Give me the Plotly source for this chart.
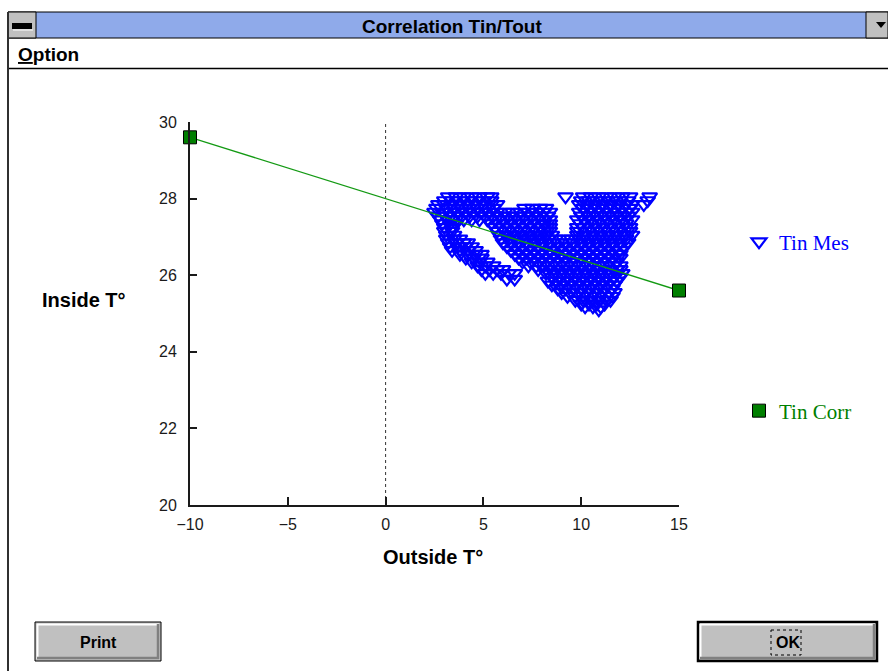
import plotly.graph_objects as go

W, H = 888, 671

# ---------------- data ----------------
# Tin Mes (measured): rows of points, one Tin level per list of Tout values
tin_levels = [28.05, 27.95, 27.85, 27.75, 27.65, 27.55, 27.45, 27.35, 27.25, 27.15,
              27.05, 26.95, 26.85, 26.75, 26.65, 26.55, 26.45, 26.35, 26.25, 26.15,
              26.05, 25.95, 25.9, 25.85, 25.75, 25.65, 25.55, 25.45, 25.35, 25.25,
              25.18, 25.1]
tout_2805 = [3.2, 3.6, 4.0, 4.4, 4.8, 5.2, 5.4, 9.2, 10.1, 10.5, 10.9, 11.3, 11.7, 12.1, 12.5, 13.5]
tout_2795 = [3.0, 3.4, 3.8, 4.2, 4.6, 5.0, 5.4, 10.0, 10.4, 10.8, 11.2, 11.6, 12.0, 12.4, 13.4]
tout_2785 = [2.7, 3.0, 3.4, 3.8, 4.2, 4.6, 5.0, 5.4, 5.7, 9.9, 10.3, 10.7, 11.1, 11.5, 11.9, 12.3, 12.6, 13.2]
tout_2775 = [2.6, 3.1, 3.5, 3.9, 4.3, 4.7, 5.1, 5.5, 7.1, 7.5, 7.9, 8.2,
             10.1, 10.5, 10.9, 11.3, 11.7, 12.1, 12.5]
tout_2765 = [2.5, 2.9, 3.3, 3.7, 4.1, 4.5, 4.9, 5.3, 5.7, 6.1, 6.5, 6.9, 7.3, 7.7, 8.1, 8.4,
             9.9, 10.3, 10.7, 11.1, 11.5, 11.9, 12.3, 12.6]
tout_2755 = [2.7, 3.1, 3.5, 3.9, 4.3, 4.7, 5.1, 5.5, 5.9, 6.3, 6.7, 7.1, 7.5, 7.9, 8.3,
             10.0, 10.4, 10.8, 11.2, 11.6, 12.0, 12.4]
tout_2745 = [2.8, 3.2, 3.6, 4.0, 4.4, 4.8, 5.2, 5.6, 6.0, 6.4, 6.8, 7.2, 7.6, 8.0, 8.4,
             9.8, 10.2, 10.6, 11.0, 11.4, 11.8, 12.2, 12.6]
tout_2735 = [2.9, 3.3, 3.6, 5.4, 5.8, 6.2, 6.6, 7.0, 7.4, 7.8, 8.1, 8.4,
             9.95, 10.3, 10.7, 11.1, 11.5, 11.9, 12.3]
tout_2725 = [3.0, 3.4, 5.6, 6.0, 6.4, 6.8, 7.2, 7.6, 8.0, 8.4,
             9.8, 10.1, 10.5, 10.9, 11.3, 11.7, 12.1, 12.5]
tout_2715 = [3.0, 3.4, 5.7, 6.1, 6.5, 6.9, 7.3, 7.7, 8.1, 8.4,
             9.8, 10.2, 10.6, 11.0, 11.4, 11.8, 12.2, 12.5]
tout_2705 = [3.1, 3.5, 5.8, 6.2, 6.6, 7.0, 7.4, 7.8, 8.2, 8.5, 9.8,
             10.2, 10.6, 11.0, 11.4, 11.8, 12.2, 12.6]
tout_2695 = [3.1, 3.5, 3.8, 5.9, 6.3, 6.7, 7.1, 7.5, 7.9, 8.3, 8.7, 9.1, 9.5, 9.9,
             10.3, 10.7, 11.1, 11.5, 11.9, 12.3]
tout_2685 = [3.2, 3.6, 4.0, 4.2, 6.0, 6.4, 6.8, 7.2, 7.6, 8.0, 8.4, 8.8, 9.2, 9.6,
             10.0, 10.4, 10.8, 11.2, 11.6, 12.0, 12.4]
tout_2675 = [3.3, 3.7, 4.1, 4.4, 6.2, 6.6, 7.0, 7.4, 7.8, 8.2, 8.6, 9.0, 9.4, 9.8,
             10.2, 10.6, 11.0, 11.4, 11.8, 12.2]
tout_2665 = [3.4, 3.8, 4.2, 4.6, 6.4, 6.8, 7.2, 7.6, 8.0, 8.4, 8.8, 9.2, 9.6,
             10.0, 10.4, 10.8, 11.2, 11.6, 12.0]
tout_2655 = [3.8, 4.2, 4.6, 4.9, 6.6, 7.0, 7.4, 7.8, 8.2, 8.6, 9.0, 9.4, 9.8,
             10.2, 10.6, 11.0, 11.4, 11.8, 12.0]
tout_2645 = [4.1, 4.5, 4.9, 6.8, 7.2, 7.6, 8.0, 8.4, 8.8, 9.2, 9.6,
             10.0, 10.4, 10.8, 11.2, 11.6, 12.0]
tout_2635 = [4.4, 4.8, 5.2, 7.0, 7.4, 7.8, 8.2, 8.6, 9.0, 9.4, 9.8,
             10.2, 10.6, 11.0, 11.4, 11.8]
tout_2625 = [4.7, 5.1, 5.5, 7.3, 7.7, 8.1, 8.5, 8.9, 9.3, 9.7,
             10.1, 10.5, 10.9, 11.3, 11.7, 12.0]
tout_2615 = [4.9, 5.3, 5.7, 6.0, 7.8, 8.2, 8.6, 9.0, 9.4, 9.8,
             10.2, 10.6, 11.0, 11.4, 11.8, 12.0]
tout_2605 = [5.1, 5.5, 5.9, 6.3, 6.6, 8.2, 8.6, 9.0, 9.4, 9.8, 10.2, 10.6, 11.0, 11.4, 11.8, 12.1]
tout_2595 = [8.5, 8.9, 9.3, 9.7, 10.1, 10.5, 10.9, 11.3, 11.7, 12.0]
tout_2590 = [6.2, 6.6]
tout_2585 = [8.3, 8.7, 9.1, 9.5, 9.9, 10.3, 10.7, 11.1, 11.5, 11.8]
tout_2575 = [8.5, 8.9, 9.3, 9.7, 10.1, 10.5, 10.9, 11.3, 11.7]
tout_2565 = [8.8, 9.2, 9.6, 10.0, 10.4, 10.8, 11.2, 11.6]
tout_2555 = [9.0, 9.4, 9.8, 10.2, 10.6, 11.0, 11.4, 11.7]
tout_2545 = [9.3, 9.7, 10.1, 10.5, 10.9, 11.3, 11.6]
tout_2535 = [9.7, 10.1, 10.5, 10.9, 11.3, 11.5]
tout_2525 = [10.0, 10.4, 10.8, 11.2]
tout_2518 = [10.2, 10.6, 11.0]
tout_2510 = [10.9]
tout_rows = [tout_2805, tout_2795, tout_2785, tout_2775, tout_2765, tout_2755,
             tout_2745, tout_2735, tout_2725, tout_2715, tout_2705, tout_2695,
             tout_2685, tout_2675, tout_2665, tout_2655, tout_2645, tout_2635,
             tout_2625, tout_2615, tout_2605, tout_2595, tout_2590, tout_2585,
             tout_2575, tout_2565, tout_2555, tout_2545, tout_2535, tout_2525,
             tout_2518, tout_2510]

# Tin Corr (correlation line end points)
corr_tout = [-10, 15]
corr_tin = [29.6, 25.6]

x_ticks = [-10, -5, 0, 5, 10, 15]
y_ticks = [20, 22, 24, 26, 28, 30]

mes_x, mes_y = [], []
for lvl, row in zip(tin_levels, tout_rows):
    mes_x.extend(row)
    mes_y.extend([lvl] * len(row))

# ---------------- figure ----------------
fig = go.Figure()

fig.add_trace(go.Scatter(
    x=mes_x, y=mes_y, mode="markers", name="Tin Mes", legend="legend",
    marker=dict(symbol="triangle-down-open", size=13, color="#0000ff",
                line=dict(width=2.2, color="#0000ff")),
    cliponaxis=False))

fig.add_trace(go.Scatter(
    x=corr_tout, y=corr_tin, mode="lines", showlegend=False,
    line=dict(color="#139a13", width=1.3)))

fig.add_trace(go.Scatter(
    x=corr_tout, y=corr_tin, mode="markers", name="Tin Corr", legend="legend2",
    marker=dict(symbol="square", size=13, color="#007f00",
                line=dict(width=1, color="#000000")),
    cliponaxis=False))

tickfont = dict(family="Liberation Sans Narrow, Liberation Sans, Arial",
                size=16, color="#1a1a1a")

fig.update_layout(
    width=W, height=H,
    margin=dict(l=0, r=0, t=0, b=0, autoexpand=False),
    paper_bgcolor="white", plot_bgcolor="white",
    xaxis=dict(domain=[190 / W, 679 / W], range=[-10, 15], tickvals=x_ticks,
               ticks="inside", ticklen=8, tickwidth=1.5, tickcolor="#1a1a1a",
               showline=True, linewidth=2, linecolor="#1a1a1a",
               showgrid=False, zeroline=False, tickfont=tickfont,
               ticklabelstandoff=4, fixedrange=True),
    yaxis=dict(domain=[(H - 505) / H, (H - 122) / H], range=[20, 30], tickvals=y_ticks,
               ticks="inside", ticklen=7, tickwidth=1.5, tickcolor="#1a1a1a",
               showline=True, linewidth=2, linecolor="#1a1a1a",
               showgrid=False, zeroline=False, tickfont=tickfont,
               ticklabelstandoff=8, fixedrange=True),
    legend=dict(x=739 / W, y=1 - 242 / H, xanchor="left", yanchor="middle",
                bgcolor="rgba(0,0,0,0)", borderwidth=0,
                font=dict(family="Liberation Serif, Times New Roman, serif", size=21, color="#0000ff")),
    legend2=dict(x=739 / W, y=1 - 411 / H, xanchor="left", yanchor="middle",
                 bgcolor="rgba(0,0,0,0)", borderwidth=0,
                 font=dict(family="Liberation Serif, Times New Roman, serif", size=21, color="#008000")),
)

# dotted reference line at Tout = 0
fig.add_shape(type="line", xref="x", yref="y", x0=0, x1=0, y0=20, y1=30,
              line=dict(color="#333333", width=1, dash="dot"), layer="below")


# ---------------- window chrome (pixel helpers) ----------------
def px(x):
    return x / W


def py(y):
    return 1 - y / H


def rect(x0, y0, x1, y1, fill, lc="rgba(0,0,0,0)", lw=0, dash=None):
    ln = dict(color=lc, width=lw)
    if dash:
        ln["dash"] = dash
    fig.add_shape(type="rect", xref="paper", yref="paper",
                  x0=px(x0), x1=px(x1), y0=py(y0), y1=py(y1),
                  fillcolor=fill, line=ln, layer="above")


def hline(x0, x1, y, c, w):
    fig.add_shape(type="line", xref="paper", yref="paper",
                  x0=px(x0), x1=px(x1), y0=py(y), y1=py(y), line=dict(color=c, width=w))


def vline(x, y0, y1, c, w):
    fig.add_shape(type="line", xref="paper", yref="paper",
                  x0=px(x), x1=px(x), y0=py(y0), y1=py(y1), line=dict(color=c, width=w))


def text(x, y, s, size, family, color="black", xanchor="center"):
    fig.add_annotation(x=px(x), y=py(y), xref="paper", yref="paper", text=s,
                       showarrow=False, xanchor=xanchor, yanchor="middle",
                       font=dict(family=family, size=size, color=color))


NARROW = "Liberation Sans Narrow, Liberation Sans, Arial"
SANS = "Liberation Sans, Arial, sans-serif"

# title bar
rect(8, 12, 888, 38, "#8faaea", "#000000", 1)
rect(8, 12, 36, 38, "#c0c0c0", "#000000", 1)
rect(12, 23, 32, 29, "#000000")
hline(13, 33, 30, "#ffffff", 1)
rect(866, 12, 888, 38, "#c0c0c0", "#000000", 1)
fig.add_shape(type="path", xref="paper", yref="paper",
              path=f"M {px(876)} {py(22)} L {px(886)} {py(22)} L {px(881)} {py(28)} Z",
              fillcolor="#000000", line=dict(width=0))
text(452, 26, "<b>Correlation Tin/Tout</b>", 19, NARROW)

# menu bar
text(16, 54, "<b><u>O</u>ption</b>", 19, NARROW, xanchor="left")
hline(8, 888, 68.5, "#000000", 1.5)

# left window border
vline(8, 12, 671, "#303030", 2)

# axis titles
text(84, 300, "<b>Inside T°</b>", 20, SANS)
text(433, 557, "<b>Outside T°</b>", 20, SANS)

# buttons
for (x0, x1, lw, label) in [(35, 161, 1, "Print"), (698, 877, 2.5, "OK")]:
    rect(x0, 622, x1, 661, "#c0c0c0", "#000000", lw)
    hline(x0 + 2, x1 - 2, 624.5, "#ffffff", 2)
    vline(x0 + 2.5, 624, 659, "#ffffff", 2)
    hline(x0 + 2, x1 - 2, 658, "#808080", 2.5)
    vline(x1 - 3, 624, 659, "#808080", 2.5)
    text((x0 + x1) / 2, 642, f"<b>{label}</b>", 16, NARROW)
rect(771, 630, 801, 655, "rgba(0,0,0,0)", "#000000", 1, dash="dot")

fig.write_html("out.html")
